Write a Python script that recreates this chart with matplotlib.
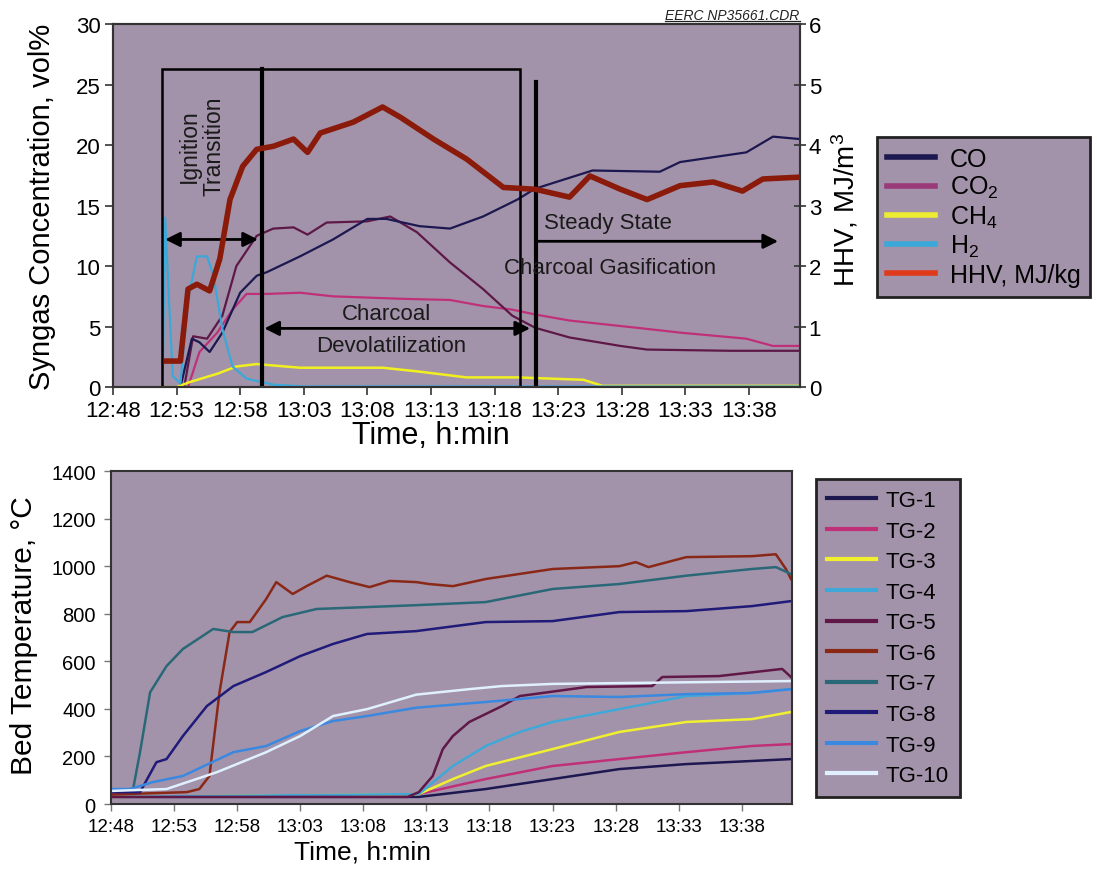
import matplotlib
matplotlib.use('Agg')
import matplotlib.pyplot as plt
from matplotlib.lines import Line2D
from matplotlib.patches import Rectangle

plt.rcParams['font.family'] = ['Liberation Sans', 'DejaVu Sans']
plt.rcParams['mathtext.fontset'] = 'custom'
plt.rcParams['mathtext.rm'] = 'Liberation Sans'
plt.rcParams['mathtext.it'] = 'Liberation Sans:italic'
plt.rcParams['mathtext.default'] = 'regular'

# ---------------- shared time axis (minutes after 12:48) ----------------
tick_minutes = [0, 5, 10, 15, 20, 25, 30, 35, 40, 45, 50]
tick_labels = ['12:48', '12:53', '12:58', '13:03', '13:08', '13:13',
               '13:18', '13:23', '13:28', '13:33', '13:38']

# ---------------- top chart: syngas composition (vol%) ----------------
co_t = [3.8, 5.3, 6.2, 6.8, 7.6, 8.6, 10.0, 11.3, 12.1, 14.7, 17.3, 20.0, 21.5,
        24.1, 26.5, 29.1, 31.8, 33.2, 37.7, 43.0, 44.6, 49.8, 51.9, 54.0]
co_v = [0, 0, 4.0, 3.7, 2.9, 4.5, 7.8, 9.2, 9.5, 10.8, 12.2, 13.9, 13.9,
        13.3, 13.1, 14.1, 15.5, 16.4, 17.9, 17.8, 18.6, 19.4, 20.7, 20.5]

co2_t = [3.8, 5.6, 6.3, 7.4, 8.6, 9.7, 11.3, 12.6, 14.2, 15.3, 16.8, 20.0, 21.8,
         23.9, 26.5, 29.1, 31.4, 33.2, 35.9, 39.9, 42.0, 48.5, 54.0]
co2_v = [0, 0, 4.2, 4.0, 5.9, 10.0, 12.5, 13.1, 13.2, 12.6, 13.6, 13.7, 14.1,
         12.8, 10.3, 8.1, 5.9, 4.9, 4.1, 3.4, 3.1, 3.0, 3.0]

magenta_t = [3.8, 5.9, 6.8, 8.2, 9.4, 10.5, 12.1, 14.7, 17.3, 22.6, 26.5, 29.1,
             31.4, 33.2, 35.9, 41.2, 44.6, 49.8, 51.9, 54.0]
magenta_v = [0, 0, 2.9, 4.5, 6.4, 7.7, 7.7, 7.8, 7.5, 7.3, 7.2, 6.7,
             6.4, 6.0, 5.5, 4.9, 4.5, 4.0, 3.4, 3.4]

ch4_t = [3.8, 5.0, 6.0, 8.2, 9.7, 11.3, 14.7, 21.2, 23.9, 27.8, 31.8, 37.0, 38.5, 54.0]
ch4_v = [0, 0, 0.4, 1.1, 1.7, 1.9, 1.6, 1.6, 1.3, 0.8, 0.8, 0.6, 0.1, 0.1]

h2_t = [3.9, 4.1, 4.4, 4.7, 5.3, 5.9, 6.6, 7.4, 7.9, 8.6, 9.4, 10.5, 12.6, 15.0, 54.0]
h2_v = [0, 14.0, 7.3, 0.9, 0.3, 7.3, 10.8, 10.8, 9.2, 4.8, 1.7, 0.7, 0.2, 0.05, 0.05]

hhv_t = [4.2, 5.3, 5.9, 6.6, 7.6, 8.4, 9.2, 10.2, 11.3, 12.6, 14.2, 15.3, 16.3,
         18.9, 21.2, 22.6, 25.2, 27.8, 30.7, 33.2, 35.9, 37.5, 39.9, 42.0, 44.6,
         47.2, 49.5, 51.1, 54.0]
hhv_v = [0.43, 0.43, 1.62, 1.70, 1.59, 2.12, 3.10, 3.65, 3.93, 3.98, 4.10, 3.88, 4.20,
         4.38, 4.63, 4.46, 4.10, 3.77, 3.30, 3.27, 3.14, 3.49, 3.27, 3.10, 3.33,
         3.39, 3.24, 3.44, 3.47]

top_legend_labels = ['CO', 'CO$_2$', 'CH$_4$', 'H$_2$', 'HHV, MJ/kg']

# ---------------- bottom chart: bed temperatures (°C) ----------------
tg1_t = [0, 24.4, 29.7, 35.0, 40.3, 45.6, 50.8, 53.9]
tg1_v = [30, 30, 63, 105, 147, 168, 181, 189]
tg2_t = [0, 24.4, 29.7, 35.0, 40.3, 45.6, 50.8, 53.9]
tg2_v = [30, 42, 105, 160, 189, 218, 244, 252]
tg3_t = [0, 24.4, 27.1, 29.7, 35.0, 40.3, 45.6, 50.8, 53.9]
tg3_v = [30, 42, 105, 160, 231, 303, 345, 357, 387]
tg4_t = [0, 24.4, 27.1, 29.7, 32.4, 35.0, 40.3, 45.6, 50.8, 53.9]
tg4_v = [30, 42, 160, 244, 303, 345, 399, 454, 467, 483]
tg5_t = [0, 23.5, 24.4, 25.5, 26.3, 27.1, 28.4, 31.0, 32.4, 37.7, 42.9, 43.7, 48.2, 53.2, 53.9]
tg5_v = [30, 30, 50, 118, 231, 286, 345, 412, 454, 492, 496, 534, 538, 568, 534]
tg6_t = [0, 3.0, 6.0, 7.0, 7.8, 8.6, 9.4, 10.0, 11.0, 12.3, 13.1, 14.4, 15.5, 17.1,
         18.9, 20.5, 22.1, 24.2, 25.2, 27.1, 29.7, 35.0, 40.3, 41.6, 42.6, 45.6,
         50.8, 52.7, 53.5, 53.9]
tg6_v = [40, 45, 50, 63, 118, 470, 723, 765, 765, 862, 933, 883, 916, 960,
         933, 912, 938, 933, 925, 916, 946, 988, 1000, 1017, 996, 1038,
         1042, 1050, 988, 946]
tg7_t = [0, 1.75, 2.3, 3.1, 4.4, 5.7, 8.1, 9.7, 11.2, 13.6, 16.3, 20.3, 24.2,
         29.7, 35.0, 40.3, 45.6, 50.8, 52.7, 53.9]
tg7_v = [60, 63, 218, 470, 580, 652, 736, 723, 723, 786, 820, 828, 836,
         849, 904, 925, 960, 988, 996, 967]
tg8_t = [0, 2.3, 3.6, 4.4, 5.7, 7.6, 9.7, 12.3, 15.0, 17.6, 20.3, 24.2, 29.7,
         35.0, 40.3, 45.6, 50.8, 53.9]
tg8_v = [50, 50, 176, 189, 286, 412, 496, 555, 622, 673, 715, 727, 765,
         769, 807, 811, 832, 853]
tg9_t = [0, 1.5, 3.3, 5.7, 9.7, 12.3, 15.0, 17.6, 20.3, 24.2, 29.7, 35.0, 40.3,
         45.6, 50.8, 53.9]
tg9_v = [63, 63, 92, 118, 218, 244, 307, 349, 370, 405, 429, 454, 450,
         462, 467, 483]
tg10_t = [0, 4.4, 8.4, 12.3, 15.0, 17.6, 20.3, 24.2, 28.4, 31.0, 35.0, 53.9]
tg10_v = [55, 63, 134, 218, 286, 370, 399, 460, 483, 496, 505, 517]

tg_labels = ['TG-1', 'TG-2', 'TG-3', 'TG-4', 'TG-5', 'TG-6', 'TG-7', 'TG-8', 'TG-9', 'TG-10']

# ---------------- styling ----------------
BG = '#a393aa'
SPINE = '#333333'

fig = plt.figure(figsize=(10.97, 8.78), dpi=100)
fig.patch.set_facecolor('white')

# ===== top chart =====
ax = fig.add_axes([0.103, 0.558, 0.626, 0.4134])
ax.set_facecolor(BG)
ax.plot(magenta_t, magenta_v, color='#c0307a', lw=1.6, zorder=3)
ax.plot(co2_t, co2_v, color='#5e1848', lw=1.6, zorder=3)
ax.plot(co_t, co_v, color='#1c1850', lw=1.6, zorder=3)
ax.plot(ch4_t, ch4_v, color='#f0f020', lw=1.8, zorder=3)
ax.plot(h2_t, h2_v, color='#3aa8d8', lw=1.6, zorder=3)
ax.set_xlim(0, 54)
ax.set_ylim(0, 30)
ax.set_yticks([0, 5, 10, 15, 20, 25, 30])
ax.set_xticks(tick_minutes)
ax.set_xticklabels(tick_labels)
ax.tick_params(axis='both', labelsize=16, direction='out', length=6, width=1.2, color=SPINE, pad=3)
for s in ax.spines.values():
    s.set_color(SPINE)
    s.set_linewidth(1.5)
ax.set_ylabel('Syngas Concentration, vol%', fontsize=21)
ax.yaxis.set_label_coords(-0.083, 0.5)
ax.set_xlabel('Time, h:min', fontsize=22)
ax.xaxis.set_label_coords(0.463, -0.09)

# annotations (phases)
ax.add_patch(Rectangle((3.85, 0), 32.0 - 3.85, 26.3, fill=False, ec='black', lw=1.8, zorder=4))
ax.plot([11.7, 11.7], [0, 26.3], color='black', lw=3, zorder=4)
ax.plot([33.3, 33.3], [0, 25.2], color='black', lw=3, zorder=4)
arrow = dict(arrowstyle='<|-|>', color='black', lw=2, mutation_scale=22, shrinkA=0, shrinkB=0)
ax.annotate('', xy=(11.4, 12.2), xytext=(4.1, 12.2), arrowprops=arrow, zorder=5)
ax.annotate('', xy=(32.8, 4.85), xytext=(11.9, 4.85), arrowprops=arrow, zorder=5)
ax.annotate('', xy=(52.3, 12.05), xytext=(33.4, 12.05),
            arrowprops=dict(arrowstyle='-|>', color='black', lw=2, mutation_scale=22, shrinkA=0, shrinkB=0), zorder=5)
ax.text(7.0, 20.0, 'Ignition\nTransition', rotation=90, ha='center', va='center',
        fontsize=16.5, color='#1a1a1a', linespacing=1.1, zorder=5)
ax.text(21.5, 6.1, 'Charcoal', ha='center', va='center', fontsize=16, color='#1a1a1a', zorder=5)
ax.text(21.9, 3.45, 'Devolatilization', ha='center', va='center', fontsize=16, color='#1a1a1a', zorder=5)
ax.text(38.9, 13.6, 'Steady State', ha='center', va='center', fontsize=16, color='#1a1a1a', zorder=5)
ax.text(39.1, 9.9, 'Charcoal Gasification', ha='center', va='center', fontsize=16, color='#1a1a1a', zorder=5)

# right axis: HHV
ax2 = ax.twinx()
ax2.plot(hhv_t, hhv_v, color='#8a1a0a', lw=4, zorder=3)
ax2.set_ylim(0, 6)
ax2.set_yticks([0, 1, 2, 3, 4, 5, 6])
ax2.tick_params(axis='y', labelsize=16, direction='inout', length=9, width=1.2, color=SPINE, pad=2)
for s in ax2.spines.values():
    s.set_color(SPINE)
    s.set_linewidth(1.5)
ax2.set_ylabel('HHV, MJ/m$^3$', fontsize=20)
ax2.yaxis.set_label_coords(1.044, 0.49)

top_colors = ['#1c1850', '#9a3a78', '#ecec30', '#3aa8d8', '#e03a1a']
handles = [Line2D([], [], color=c, lw=4) for c in top_colors]
leg = fig.legend(handles, top_legend_labels, loc='upper left', bbox_to_anchor=(0.7995, 0.8428),
                 fontsize=18, frameon=True, fancybox=False, facecolor=BG, edgecolor='#222222',
                 framealpha=1, handlelength=1.9, handletextpad=0.6, labelspacing=0.13,
                 borderpad=0.4, borderaxespad=0)
leg.get_frame().set_linewidth(2)

# watermark-like tag
tag = fig.text(0.729, 0.974, 'EERC NP35661.CDR', ha='right', va='bottom', fontsize=10,
               style='italic', color='#222222')

# ===== bottom chart =====
bx = fig.add_axes([0.1012, 0.0831, 0.621, 0.3793])
bx.set_facecolor(BG)
tg_series = [(tg1_t, tg1_v), (tg2_t, tg2_v), (tg3_t, tg3_v), (tg4_t, tg4_v), (tg5_t, tg5_v),
             (tg6_t, tg6_v), (tg7_t, tg7_v), (tg8_t, tg8_v), (tg9_t, tg9_v), (tg10_t, tg10_v)]
tg_colors = ['#1e1850', '#c03078', '#f0f030', '#40a8d8', '#601848',
             '#8a2818', '#2a6878', '#201a78', '#3a88e0', '#e0f0ff']
for (t, v), c, lab in zip(tg_series, tg_colors, tg_labels):
    bx.plot(t, v, color=c, lw=1.8, label=lab)
bx.set_xlim(0, 54)
bx.set_ylim(0, 1400)
bx.set_yticks(range(0, 1401, 200))
bx.set_xticks(tick_minutes)
bx.set_xticklabels(tick_labels)
bx.tick_params(axis='y', labelsize=14.5, direction='out', length=5, width=1.0, color='#777777', pad=6)
bx.tick_params(axis='x', labelsize=13.5, direction='out', length=5, width=1.0, color='#777777', pad=5)
for s in bx.spines.values():
    s.set_color(SPINE)
    s.set_linewidth(1.5)
bx.set_ylabel('Bed Temperature, °C', fontsize=21.5)
bx.yaxis.set_label_coords(-0.107, 0.51)
bx.set_xlabel('Time, h:min', fontsize=19)
bx.xaxis.set_label_coords(0.369, -0.105)

bh = [Line2D([], [], color=c, lw=3) for c in tg_colors]
leg2 = fig.legend(bh, tg_labels, loc='upper left', bbox_to_anchor=(0.7438, 0.4533),
                  fontsize=16, frameon=True, fancybox=False, facecolor=BG, edgecolor='#222222',
                  framealpha=1, handlelength=2.2, handletextpad=0.45, labelspacing=0.43,
                  borderpad=0.5, borderaxespad=0)
leg2.get_frame().set_linewidth(2)

# underline the tag
fig.canvas.draw()
bb = tag.get_window_extent().transformed(fig.transFigure.inverted())
fig.add_artist(Line2D([bb.x0, bb.x1], [bb.y0 + 0.001, bb.y0 + 0.001], color='#222222', lw=0.9))

fig.savefig('out.png', dpi=100, facecolor='white')
